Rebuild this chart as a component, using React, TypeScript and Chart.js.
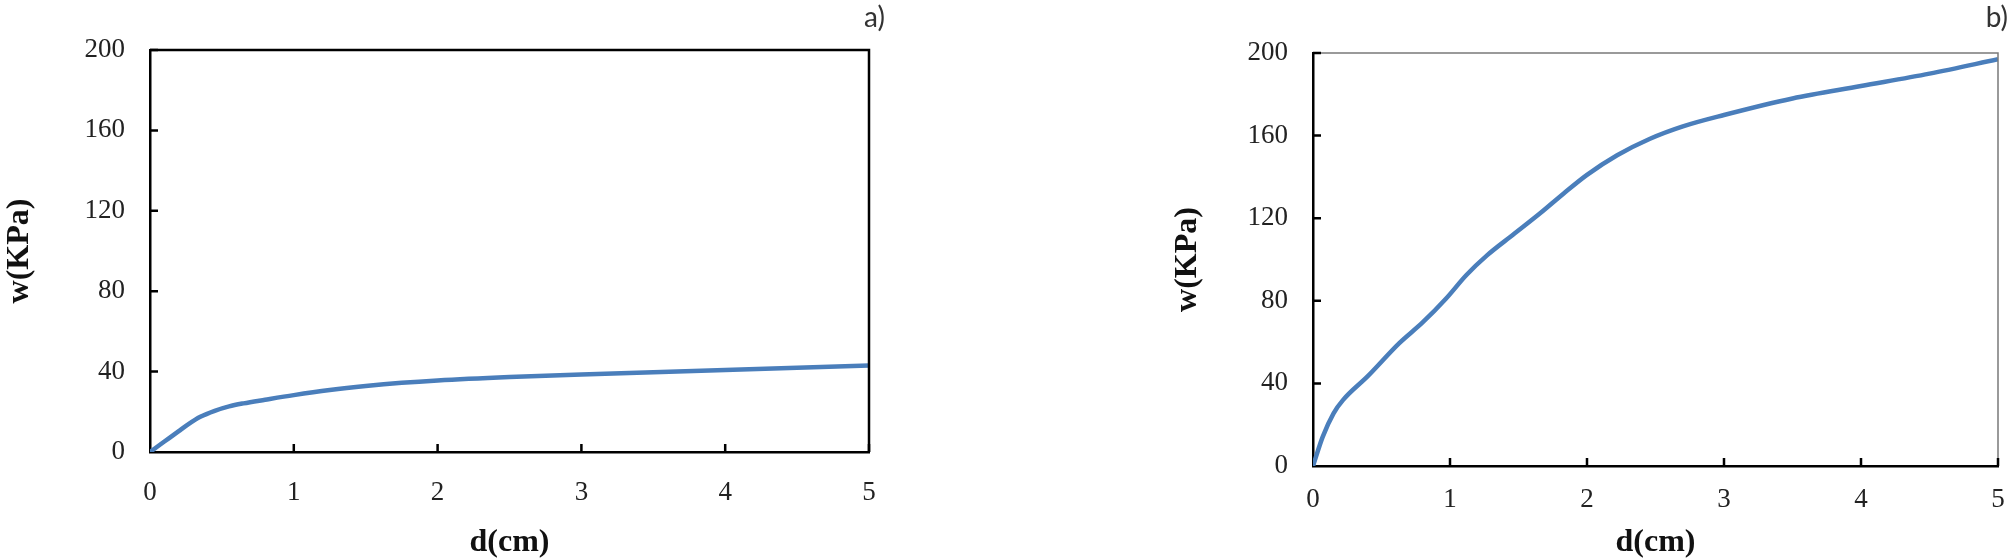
import React, { useEffect, useRef } from "react";
import { Chart, registerables } from "chart.js";

Chart.register(...registerables);

// ---- Data ----
const xTickValues = [0, 1, 2, 3, 4, 5];
const yTickValues = [0, 40, 80, 120, 160, 200];

const dA = [0, 0.1, 0.2, 0.26, 0.35, 0.45, 0.55, 0.65, 0.8, 1.0, 1.25, 1.5, 1.75, 2.0, 2.5, 3.0, 3.5, 4.0, 4.5, 5.0];
const wA = [0, 5.2, 10.4, 13.5, 17.5, 20.5, 22.7, 24.2, 26.0, 28.3, 30.8, 32.8, 34.4, 35.6, 37.3, 38.6, 39.7, 40.8, 41.9, 43.0];

const dB = [0, 0.07, 0.15, 0.22, 0.4, 0.63, 0.8, 0.97, 1.12, 1.27, 1.46, 1.66, 1.83, 2.0, 2.22, 2.46, 2.7, 3.0, 3.5, 4.0, 4.5, 5.0];
const wB = [0, 14, 25.5, 32, 43.5, 59.5, 69.5, 81, 92.5, 102, 112, 122.5, 132, 141, 150.5, 158.5, 164.5, 170, 178, 184, 190, 197];

const xTitle = "d(cm)";
const yTitle = "w(KPa)";

const BLUE = "#4A7EBB";
const SERIF = "'Liberation Serif', 'Times New Roman', serif";

const framePlugin = {
  id: "frame",
  afterDraw(chart: any, _args: any, opts: any) {
    const { ctx, chartArea, scales } = chart;
    const { left, right, top, bottom } = chartArea;
    ctx.save();
    // top & right frame
    ctx.strokeStyle = opts.color;
    ctx.lineWidth = opts.width;
    ctx.beginPath();
    ctx.moveTo(left, top);
    ctx.lineTo(right, top);
    ctx.lineTo(right, bottom);
    ctx.stroke();
    // inward tick marks
    ctx.strokeStyle = "#000";
    ctx.lineWidth = 2.5;
    ctx.beginPath();
    for (const t of scales.x.ticks) {
      if (t.value === scales.x.min) continue;
      const px = scales.x.getPixelForValue(t.value);
      ctx.moveTo(px, bottom);
      ctx.lineTo(px, bottom - 8);
    }
    for (const t of scales.y.ticks) {
      if (t.value === scales.y.min) continue;
      const py = scales.y.getPixelForValue(t.value);
      ctx.moveTo(left, py);
      ctx.lineTo(left + 8, py);
    }
    ctx.stroke();
    // panel label
    ctx.fillStyle = "#333";
    ctx.font = "28px Lato, 'Open Sans', sans-serif";
    ctx.textAlign = "right";
    ctx.textBaseline = "middle";
    ctx.fillText(opts.label, right + opts.labelDx, opts.labelY);
    ctx.restore();
  },
};

type PanelProps = {
  d: number[];
  w: number[];
  width: number;
  left: number;
  padLeft: number;
  yScaleWidth: number;
  padRight: number;
  padTop: number;
  xScaleHeight: number;
  xTickPad: number;
  frameColor: string;
  frameWidth: number;
  label: string;
  labelDx: number;
};

function Panel(p: PanelProps) {
  const ref = useRef<HTMLCanvasElement | null>(null);
  useEffect(() => {
    if (!ref.current) return;
    const chart = new Chart(ref.current, {
      type: "line",
      data: {
        datasets: [
          {
            data: p.d.map((x, i) => ({ x, y: p.w[i] })),
            borderColor: BLUE,
            borderWidth: 4.5,
            pointRadius: 0,
            fill: false,
            cubicInterpolationMode: "monotone",
          },
        ],
      },
      options: {
        responsive: false,
        animation: false,
        layout: { padding: { left: p.padLeft, right: p.padRight, top: p.padTop, bottom: 0 } },
        plugins: {
          legend: { display: false },
          tooltip: { enabled: false },
          frame: {
            color: p.frameColor,
            width: p.frameWidth,
            label: p.label,
            labelDx: p.labelDx,
            labelY: 18,
          },
        } as any,
        scales: {
          x: {
            type: "linear",
            min: 0,
            max: 5,
            afterBuildTicks: (s: any) => {
              s.ticks = xTickValues.map((v) => ({ value: v }));
            },
            ticks: {
              color: "#222",
              font: { family: SERIF, size: 27 },
              padding: p.xTickPad,
              maxRotation: 0,
            },
            grid: { display: false, drawTicks: false },
            border: { display: true, color: "#000", width: 2.5 },
            title: {
              display: true,
              text: xTitle,
              color: "#111",
              font: { family: SERIF, size: 32, weight: "bold", lineHeight: 1 },
              padding: 0,
            },
            afterFit: (s: any) => {
              s.height = p.xScaleHeight;
              s.paddingLeft = 0;
              s.paddingRight = 0;
            },
          },
          y: {
            type: "linear",
            min: 0,
            max: 200,
            afterBuildTicks: (s: any) => {
              s.ticks = yTickValues.map((v) => ({ value: v }));
            },
            ticks: {
              color: "#222",
              font: { family: SERIF, size: 27 },
              padding: 25,
            },
            grid: { display: false, drawTicks: false },
            border: { display: true, color: "#000", width: 2.5 },
            title: {
              display: true,
              text: yTitle,
              color: "#111",
              font: { family: SERIF, size: 32, weight: "bold", lineHeight: 1 },
              padding: { top: 4, bottom: 0 },
            },
            afterFit: (s: any) => {
              s.width = p.yScaleWidth;
              s.paddingTop = 0;
              s.paddingBottom = 0;
            },
          },
        },
      } as any,
      plugins: [framePlugin],
    });
    return () => chart.destroy();
  }, []);
  return (
    <canvas
      ref={ref}
      width={p.width}
      height={559}
      style={{ position: "absolute", left: p.left, top: 0, width: p.width, height: 559 }}
    />
  );
}

export default function App() {
  return (
    <div style={{ position: "absolute", left: 0, top: 0, width: 2010, height: 559, background: "#fff" }}>
      <Panel
        d={dA}
        w={wA}
        width={1000}
        left={0}
        padLeft={0}
        yScaleWidth={150}
        padRight={131}
        padTop={50}
        xScaleHeight={107}
        xTickPad={25}
        frameColor="#000"
        frameWidth={2.5}
        label="a)"
        labelDx={16}
      />
      <Panel
        d={dB}
        w={wB}
        width={1010}
        left={1000}
        padLeft={168}
        yScaleWidth={145}
        padRight={12}
        padTop={53}
        xScaleHeight={93}
        xTickPad={18}
        frameColor="#7a7a7a"
        frameWidth={1.5}
        label="b)"
        labelDx={10}
      />
    </div>
  );
}
